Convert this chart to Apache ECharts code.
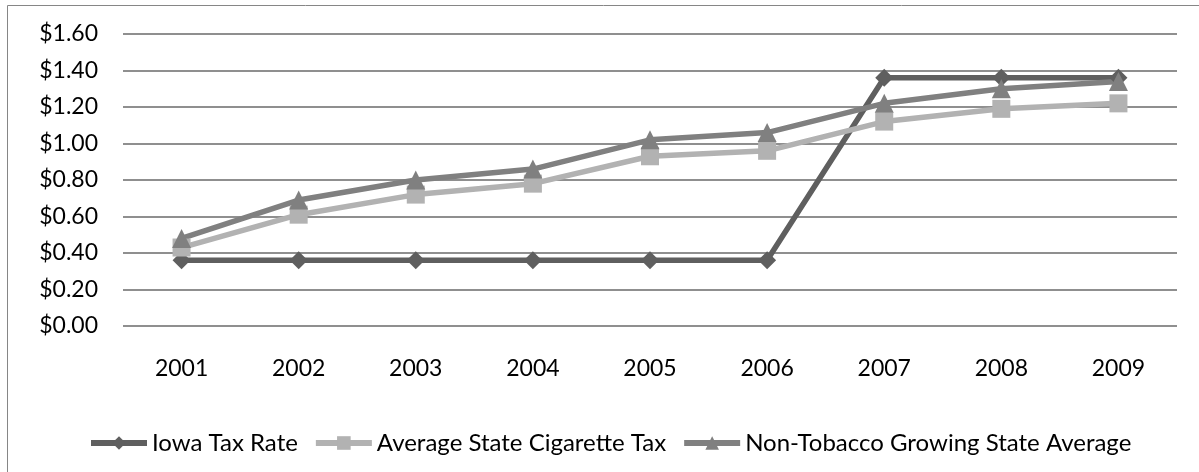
<!DOCTYPE html>
<html>
<head>
<meta charset="utf-8">
<title>Cigarette Tax Rates</title>
<script src="https://cdn.jsdelivr.net/npm/echarts@6/dist/echarts.min.js"></script>
<style>
  html, body { margin: 0; padding: 0; background: #fff; }
  #chart { width: 1199px; height: 472px; }
</style>
</head>
<body>
<div id="chart"></div>
<script>
// ── data ─────────────────────────────
const years = ["2001", "2002", "2003", "2004", "2005", "2006", "2007", "2008", "2009"];
const iowaTax = [0.36, 0.36, 0.36, 0.36, 0.36, 0.36, 1.36, 1.36, 1.36];
const avgStateTax = [0.43, 0.61, 0.72, 0.78, 0.93, 0.96, 1.12, 1.19, 1.22];
const nonTobaccoAvg = [0.48, 0.69, 0.80, 0.86, 1.02, 1.06, 1.22, 1.30, 1.34];
const seriesNames = ["Iowa Tax Rate", "Average State Cigarette Tax", "Non-Tobacco Growing State Average"];

const FONT = "Lato, 'Noto Sans', sans-serif";

const chart = echarts.init(document.getElementById("chart"));

function lineSeries(name, data, color, symbol, size) {
  return {
    name, type: "line", data,
    symbol, symbolSize: size,
    lineStyle: { width: 5.5, color },
    itemStyle: { color },
    animation: false,
  };
}

chart.setOption({
  backgroundColor: "#fff",
  animation: false,
  graphic: [{
    type: "rect",
    shape: { x: 7.5, y: 5.5, width: 1192, height: 470 },
    style: { fill: "none", stroke: "#868686", lineWidth: 1 },
    silent: true,
  }],
  grid: { left: 123, right: 22, top: 34, bottom: 146 },
  legend: {
    left: 83, top: 426,
    itemWidth: 56, itemHeight: 17, itemGap: 15,
    lineStyle: { width: 6 },
    textStyle: { fontFamily: FONT, fontSize: 24, color: "#000" },
    data: seriesNames,
  },
  xAxis: {
    type: "category", data: years,
    axisLine: { show: false },
    axisTick: { show: false },
    axisLabel: { fontFamily: FONT, fontSize: 23, color: "#000", margin: 31 },
  },
  yAxis: {
    type: "value", min: 0, max: 1.6, interval: 0.2,
    axisLine: { show: false },
    axisTick: { show: false },
    axisLabel: {
      fontFamily: FONT, fontSize: 23, color: "#000", margin: 25,
      formatter: (v) => "$" + v.toFixed(2),
    },
    splitLine: { lineStyle: { color: "#8f8f8f", width: 2 } },
  },
  series: [
    lineSeries(seriesNames[0], iowaTax, "#5f5f5f", "diamond", 18),
    lineSeries(seriesNames[1], avgStateTax, "#b2b2b2", "rect", 18),
    lineSeries(seriesNames[2], nonTobaccoAvg, "#808080", "triangle", 19),
  ],
});
</script>
</body>
</html>
